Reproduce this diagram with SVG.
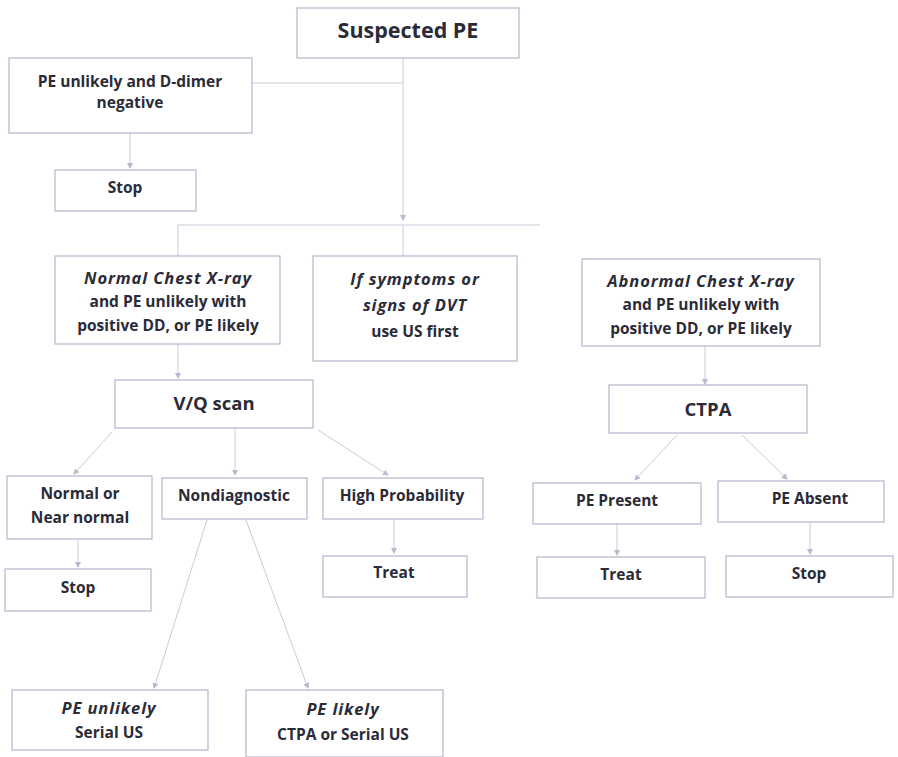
<svg xmlns="http://www.w3.org/2000/svg" width="898" height="757" viewBox="0 0 898 757">
<defs>
<style>
.box{fill:#ffffff;stroke:#b4b4cc;stroke-width:1.2}
.t{font-family:"Open Sans","Noto Sans","Liberation Sans",sans-serif;font-weight:bold;font-size:15.5px;fill:#2b2b38;text-anchor:middle}
.i{font-style:italic;font-size:16.5px;letter-spacing:0.9px}
.big{font-size:21.5px}
.mid{font-size:18.5px}
.c{stroke:#cacadc;stroke-width:1;fill:none}
</style>
<marker id="a" markerWidth="6" markerHeight="6" refX="5" refY="3" orient="auto" markerUnits="userSpaceOnUse">
<path d="M0,0 L6,3 L0,6 z" fill="#b8b8d0"/>
</marker>
</defs>
<rect width="898" height="757" fill="#ffffff"/>
<g id="connectors">
<path class="c" d="M403,58 V220" marker-end="url(#a)"/>
<path class="c" d="M252,83 H403"/>
<path class="c" d="M178,225 H540"/>
<path class="c" d="M403,225 V256"/>
<path class="c" d="M178,225 V256"/>
<path class="c" d="M130,133 V168" marker-end="url(#a)"/>
<path class="c" d="M178,344 V378" marker-end="url(#a)"/>
<path class="c" d="M705,346 V384" marker-end="url(#a)"/>
<path class="c" d="M112,432 L74,474" marker-end="url(#a)"/>
<path class="c" d="M235,428 V475" marker-end="url(#a)"/>
<path class="c" d="M318,430 L388,475" marker-end="url(#a)"/>
<path class="c" d="M78,540 V567" marker-end="url(#a)"/>
<path class="c" d="M394,520 V553" marker-end="url(#a)"/>
<path class="c" d="M207,520 L154,688" marker-end="url(#a)"/>
<path class="c" d="M246,520 L308,688" marker-end="url(#a)"/>
<path class="c" d="M677,435 L635,480" marker-end="url(#a)"/>
<path class="c" d="M742,435 L787,479" marker-end="url(#a)"/>
<path class="c" d="M617,524 V555" marker-end="url(#a)"/>
<path class="c" d="M810,522 V554" marker-end="url(#a)"/>
</g>
<g id="suspected"><rect class="box" x="297" y="8" width="222" height="50"/><text class="t big" x="408" y="38">Suspected PE</text></g>
<g id="unlikely-neg"><rect class="box" x="9" y="58" width="243" height="75"/><text class="t" x="130" y="87">PE unlikely and D-dimer</text><text class="t" x="130" y="108">negative</text></g>
<g id="stop1"><rect class="box" x="55" y="170" width="141" height="41"/><text class="t" x="125" y="193">Stop</text></g>
<g id="normal-cxr"><rect class="box" x="55" y="256" width="225" height="88"/><text class="t i" x="168" y="284">Normal Chest X-ray</text><text class="t" x="168" y="307">and PE unlikely with</text><text class="t" x="168" y="331">positive DD, or PE likely</text></g>
<g id="dvt"><rect class="box" x="313" y="256" width="204" height="105"/><text class="t i" x="415" y="285">If symptoms or</text><text class="t i" x="415" y="311">signs of DVT</text><text class="t" x="415" y="337">use US first</text></g>
<g id="abnormal-cxr"><rect class="box" x="582" y="259" width="238" height="87"/><text class="t i" x="701" y="287">Abnormal Chest X-ray</text><text class="t" x="701" y="310">and PE unlikely with</text><text class="t" x="701" y="334">positive DD, or PE likely</text></g>
<g id="vq"><rect class="box" x="115" y="380" width="198" height="48"/><text class="t mid" x="214" y="410">V/Q scan</text></g>
<g id="ctpa"><rect class="box" x="609" y="385" width="198" height="48"/><text class="t mid" x="708" y="416">CTPA</text></g>
<g id="near-normal"><rect class="box" x="7" y="476" width="145" height="63"/><text class="t" x="80" y="499">Normal or</text><text class="t" x="80" y="523">Near normal</text></g>
<g id="nondiag"><rect class="box" x="162" y="478" width="145" height="41"/><text class="t" x="234" y="501">Nondiagnostic</text></g>
<g id="highprob"><rect class="box" x="323" y="478" width="160" height="41"/><text class="t" x="402" y="501">High Probability</text></g>
<g id="stop2"><rect class="box" x="5" y="569" width="146" height="42"/><text class="t" x="78" y="593">Stop</text></g>
<g id="treat1"><rect class="box" x="323" y="556" width="144" height="41"/><text class="t" x="394" y="578">Treat</text></g>
<g id="pe-present"><rect class="box" x="533" y="483" width="168" height="41"/><text class="t" x="617" y="506">PE Present</text></g>
<g id="pe-absent"><rect class="box" x="718" y="481" width="166" height="41"/><text class="t" x="810" y="504">PE Absent</text></g>
<g id="treat2"><rect class="box" x="537" y="557" width="168" height="41"/><text class="t" x="621" y="580">Treat</text></g>
<g id="stop3"><rect class="box" x="726" y="556" width="167" height="41"/><text class="t" x="809" y="579">Stop</text></g>
<g id="serial-us"><rect class="box" x="12" y="690" width="196" height="60"/><text class="t i" x="109" y="714">PE unlikely</text><text class="t" x="109" y="738">Serial US</text></g>
<g id="ctpa-serial"><rect class="box" x="246" y="690" width="197" height="67"/><text class="t i" x="343" y="715">PE likely</text><text class="t" x="343" y="740">CTPA or Serial US</text></g>
</svg>
